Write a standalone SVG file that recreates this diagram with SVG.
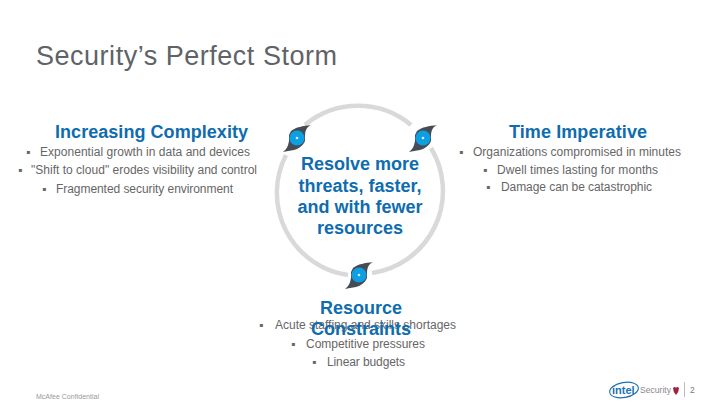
<svg xmlns="http://www.w3.org/2000/svg" width="720" height="405" viewBox="0 0 720 405">
<style>
text{font-family:"Liberation Sans",Arial,sans-serif}
.title{font-size:27px;fill:#5f6368}
.h{font-size:18px;font-weight:bold;fill:#0f6cae}
.c{font-size:18px;font-weight:bold;fill:#0f6cae;text-anchor:middle}
.b{font-size:12px;fill:#666}
.ring{fill:none;stroke:#d9d9d9;stroke-width:4.5}
.tail{fill:#454c55}
.eye{fill:#0e9ee2}
.dot{fill:#cfeefc}
</style>
<defs>
<g id="storm">
<path class="tail" d="M-6,-7 C-1,-11 6,-12 14,-13 C10,-11 8,-8 8,-2 L8,3 C6,8 1,11 -3,12 C-7,13 -11,13 -14,14 C-10,11 -9,8 -8,3 L-8,-3Z"/>
<circle class="eye" cx="0" cy="0" r="7.6"/>
<circle class="dot" cx="0" cy="0" r="1.3"/>
</g>
</defs>
<rect width="720" height="405" fill="#fff"/>
<text class="title" x="36" y="65" textLength="301">Security’s Perfect Storm</text>
<g id="connectors">
<path class="ring" d="M305,125 A83,83 0 0 1 411,125"/>
<path class="ring" d="M431,148 A83,83 0 0 1 372,273"/>
<path class="ring" d="M348,275 A83,83 0 0 1 286,155"/>
</g>
<g id="storm-left"><use href="#storm" x="297" y="138"/></g>
<g id="storm-right"><use href="#storm" x="423" y="138"/></g>
<g id="storm-bottom"><use href="#storm" x="359" y="275"/></g>
<g id="center">
<text class="c" x="360" y="170">Resolve more</text>
<text class="c" x="360" y="192">threats, faster,</text>
<text class="c" x="360" y="213">and with fewer</text>
<text class="c" x="360" y="234">resources</text>
</g>
<g id="complexity">
<text class="h" x="55" y="138" textLength="193">Increasing Complexity</text>
<text class="b" x="26" y="156">▪</text><text class="b" x="40" y="156" textLength="210">Exponential growth in data and devices</text>
<text class="b" x="18" y="174">▪</text><text class="b" x="31" y="174" textLength="226">"Shift to cloud" erodes visibility and control</text>
<text class="b" x="42" y="193">▪</text><text class="b" x="56" y="193" textLength="177">Fragmented security environment</text>
</g>
<g id="time">
<text class="h" x="509" y="138" textLength="138">Time Imperative</text>
<text class="b" x="459" y="156">▪</text><text class="b" x="473" y="156" textLength="208">Organizations compromised in minutes</text>
<text class="b" x="483" y="174">▪</text><text class="b" x="497" y="174" textLength="161">Dwell times lasting for months</text>
<text class="b" x="486" y="191">▪</text><text class="b" x="501" y="191" textLength="151">Damage can be catastrophic</text>
</g>
<g id="resource">
<text class="c" x="361" y="314">Resource</text>
<text class="b" x="259" y="329">▪</text><text class="b" x="275" y="329" textLength="181">Acute staffing and skills shortages</text>
<text class="c" x="361" y="335">Constraints</text>
<text class="b" x="291" y="348">▪</text><text class="b" x="306" y="348" textLength="119">Competitive pressures</text>
<text class="b" x="312" y="366">▪</text><text class="b" x="327" y="366" textLength="78">Linear budgets</text>
</g>
<g id="footer">
<text x="36" y="399" font-size="7" fill="#999" textLength="63">McAfee Confidential</text>
<ellipse cx="624" cy="390" rx="14.5" ry="7.5" fill="none" stroke="#1b6fb5" stroke-width="1.1" transform="rotate(-10 624 390)"/>
<text x="612" y="394" font-size="11" font-weight="bold" fill="#1b6fb5">intel</text>
<text x="640" y="393" font-size="8.5" fill="#888" textLength="31">Security</text>
<path d="M673,388 Q675,386 676,388 Q677,386 679,388 Q679,392 676,395 Q673,392 673,388Z" fill="#a3223c"/>
<rect x="684" y="382" width="1" height="15" fill="#bbb"/>
<text x="690" y="393" font-size="8.5" fill="#777">2</text>
</g>
</svg>
